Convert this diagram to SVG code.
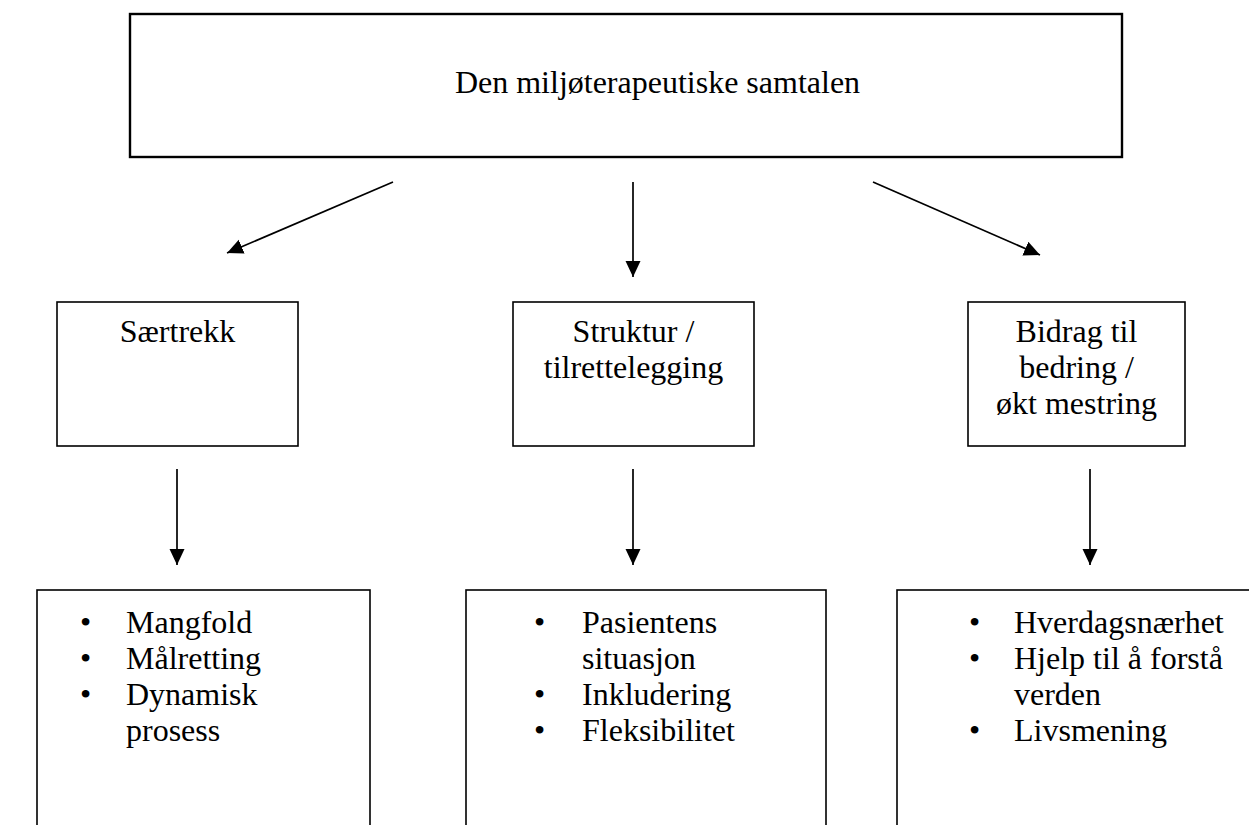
<svg xmlns="http://www.w3.org/2000/svg" width="1249" height="825" viewBox="0 0 1249 825">
  <style>
    .box { fill: #ffffff; stroke: #000000; stroke-width: 1.6; }
    .top { stroke-width: 2.4; }
    .t { font-family: "Liberation Serif", "Times New Roman", serif; font-size: 32px; fill: #000000; }
    .c { text-anchor: middle; }
    .conn { stroke: #000000; stroke-width: 1.7; fill: none; marker-end: url(#ah); }
  </style>
  <defs>
    <marker id="ah" markerUnits="userSpaceOnUse" markerWidth="18" markerHeight="16" refX="16" refY="7.5" orient="auto">
      <path d="M0,0 L16,7.5 L0,15 z" fill="#000000"/>
    </marker>
  </defs>
  <rect width="1249" height="825" fill="#ffffff"/>

  <g id="node-top">
    <rect class="box top" x="130" y="14" width="992" height="143"/>
    <text class="t c" x="657.5" y="93">Den miljøterapeutiske samtalen</text>
  </g>

  <g id="node-saertrekk">
    <rect class="box" x="57" y="302" width="241" height="144"/>
    <text class="t c" x="177.5" y="342">Særtrekk</text>
  </g>

  <g id="node-struktur">
    <rect class="box" x="513" y="302" width="241" height="144"/>
    <text class="t c" x="633.5" y="342">Struktur /</text>
    <text class="t c" x="633.5" y="378">tilrettelegging</text>
  </g>

  <g id="node-bidrag">
    <rect class="box" x="968" y="302" width="217" height="144"/>
    <text class="t c" x="1076.5" y="342">Bidrag til</text>
    <text class="t c" x="1076.5" y="378">bedring /</text>
    <text class="t c" x="1076.5" y="414">økt mestring</text>
  </g>

  <g id="node-list1">
    <rect class="box" x="37" y="590" width="333" height="260"/>
    <text class="t" x="80" y="633">•</text>
    <text class="t" x="126" y="633">Mangfold</text>
    <text class="t" x="80" y="669">•</text>
    <text class="t" x="126" y="669">Målretting</text>
    <text class="t" x="80" y="705">•</text>
    <text class="t" x="126" y="705">Dynamisk</text>
    <text class="t" x="126" y="741">prosess</text>
  </g>

  <g id="node-list2">
    <rect class="box" x="466" y="590" width="360" height="260"/>
    <text class="t" x="534" y="633">•</text>
    <text class="t" x="582" y="633">Pasientens</text>
    <text class="t" x="582" y="669">situasjon</text>
    <text class="t" x="534" y="705">•</text>
    <text class="t" x="582" y="705">Inkludering</text>
    <text class="t" x="534" y="741">•</text>
    <text class="t" x="582" y="741">Fleksibilitet</text>
  </g>

  <g id="node-list3">
    <rect class="box" x="897" y="590" width="380" height="260"/>
    <text class="t" x="969" y="633">•</text>
    <text class="t" x="1014" y="633">Hverdagsnærhet</text>
    <text class="t" x="969" y="669">•</text>
    <text class="t" x="1014" y="669">Hjelp til å forstå</text>
    <text class="t" x="1014" y="705">verden</text>
    <text class="t" x="969" y="741">•</text>
    <text class="t" x="1014" y="741">Livsmening</text>
  </g>

  <g id="connectors">
    <line class="conn" x1="393" y1="182" x2="227" y2="253"/>
    <line class="conn" x1="633" y1="182" x2="633" y2="277"/>
    <line class="conn" x1="873" y1="182" x2="1040" y2="255"/>
    <line class="conn" x1="177" y1="469" x2="177" y2="565"/>
    <line class="conn" x1="633" y1="469" x2="633" y2="565"/>
    <line class="conn" x1="1090" y1="469" x2="1090" y2="565"/>
  </g>
</svg>
